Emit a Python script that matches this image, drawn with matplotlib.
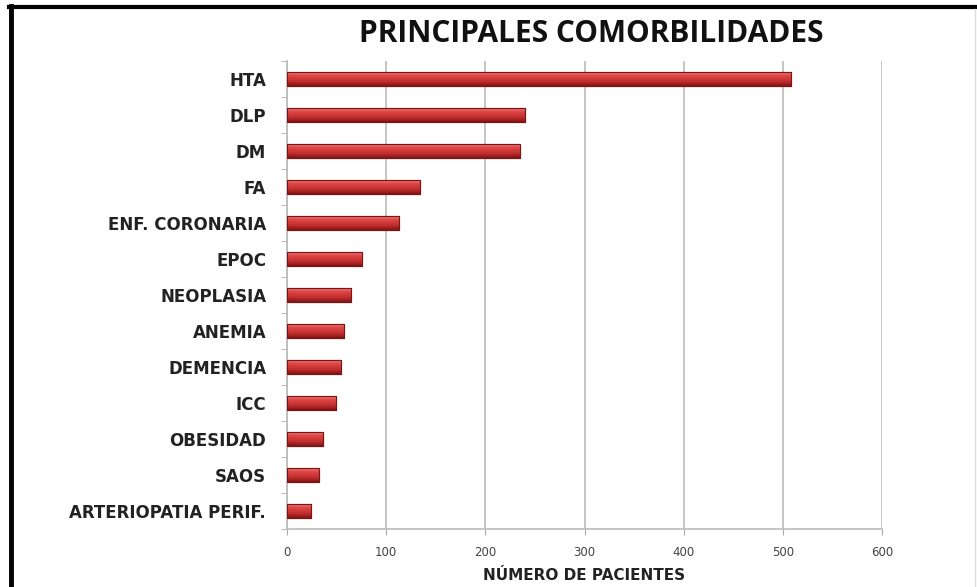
import matplotlib
matplotlib.use("Agg")
import matplotlib.pyplot as plt
import numpy as np
from matplotlib.colors import LinearSegmentedColormap
from matplotlib.lines import Line2D

categories = ["HTA", "DLP", "DM", "FA", "ENF. CORONARIA", "EPOC", "NEOPLASIA",
              "ANEMIA", "DEMENCIA", "ICC", "OBESIDAD", "SAOS", "ARTERIOPATIA PERIF."]
values = [508, 240, 235, 134, 113, 76, 65, 57, 54, 49, 36, 32, 24]
xticks = [0, 100, 200, 300, 400, 500, 600]
title = "PRINCIPALES COMORBILIDADES"
xlabel = "NÚMERO DE PACIENTES"

fig = plt.figure(figsize=(9.78, 5.87), dpi=100)
ax = fig.add_axes([0.2935, 0.0988, 0.9018 - 0.2935, 0.896 - 0.0988])

n = len(categories)
ypos = np.arange(n)
bars = ax.barh(ypos, values, height=0.41, color="#cc3333", edgecolor="#7a1515", linewidth=0.8, zorder=3)

# top -> bottom of each bar (cylinder-like shading)
cmap = LinearSegmentedColormap.from_list(
    "cyl", ["#f4a0a0", "#e86060", "#dc4444", "#d03a3a", "#c33030", "#a82222", "#7e1515"])
grad = np.linspace(0, 1, 64).reshape(-1, 1)
for b in bars:
    x0, y0 = b.get_x(), b.get_y()
    w, h = b.get_width(), b.get_height()
    # y axis is inverted: y0 is the visual top
    im = ax.imshow(grad, cmap=cmap, aspect="auto", extent=(x0, x0 + w, y0 + h, y0),
                   origin="upper", zorder=3.5, interpolation="bicubic")
    im.set_clip_path(b)
    ax.add_patch(plt.Rectangle((x0, y0), w, h, fill=False, edgecolor="#7a1515", linewidth=0.8, zorder=4))

ax.set_xlim(0, 600)
ax.set_ylim(n - 0.5, -0.5)
ax.set_xticks(xticks)
ax.set_xticklabels([str(t) for t in xticks], fontsize=8.5, color="#444444")
ax.tick_params(axis="x", length=4, color="#aaaaaa", pad=8)
ax.set_yticks(ypos)
ax.set_yticklabels(categories, fontsize=12, fontweight="bold", color="#222222",
                   family="DejaVu Sans")
ax.tick_params(axis="y", length=0, pad=15)
ax.set_yticks(np.arange(-0.5, n, 1), minor=True)
ax.tick_params(axis="y", which="minor", length=4, color="#aaaaaa")
ax.xaxis.grid(True, color="#bbbbbb", linewidth=1.2, zorder=0)
ax.set_axisbelow(True)
for s in ["top", "right"]:
    ax.spines[s].set_visible(False)
for s in ["left", "bottom"]:
    ax.spines[s].set_color("#bbbbbb")
    ax.spines[s].set_linewidth(1.2)

ax.set_xlabel(xlabel, fontsize=11, fontweight="bold", color="#222222", labelpad=7)
fig.text(0.605, 0.942, title, ha="center", va="center", fontsize=21.5,
         fontweight="bold", family="Open Sans", color="#111111")

# outer frame
fig.add_artist(Line2D([0.011, 0.011], [0, 0.99], transform=fig.transFigure, color="black", linewidth=3.5))
fig.add_artist(Line2D([0.009, 1.0], [0.988, 0.988], transform=fig.transFigure, color="black", linewidth=3))
fig.add_artist(Line2D([0.997, 0.997], [0, 0.985], transform=fig.transFigure, color="#dddddd", linewidth=1))

fig.savefig("out.png", dpi=100)
